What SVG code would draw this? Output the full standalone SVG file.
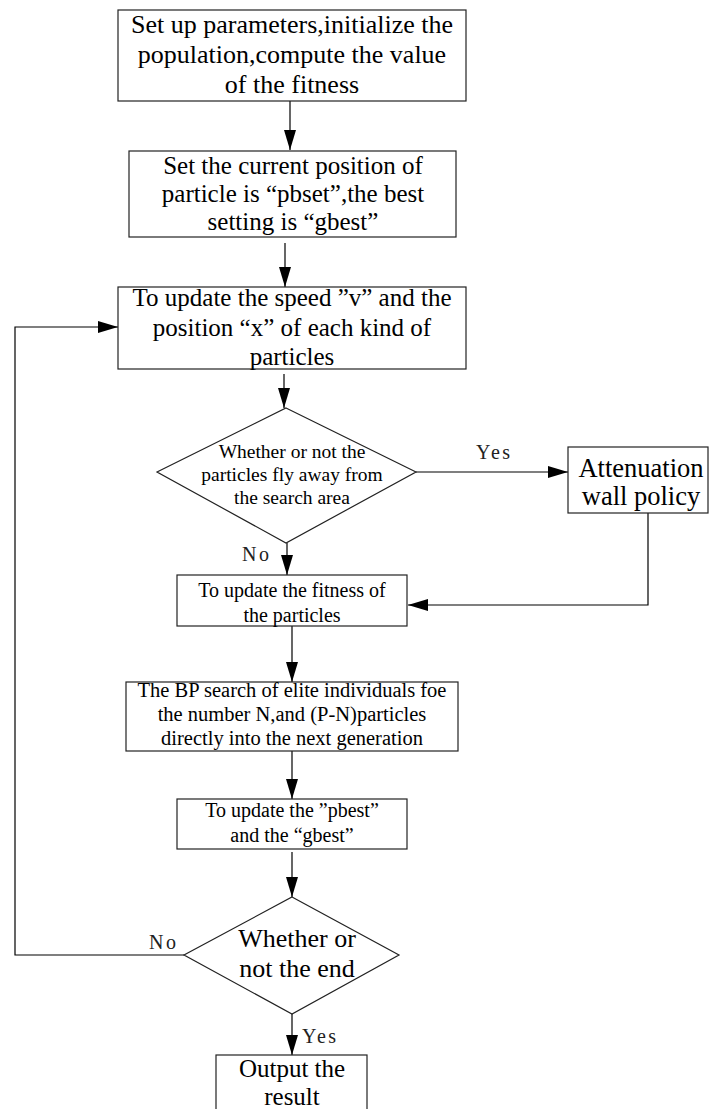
<svg xmlns="http://www.w3.org/2000/svg" width="710" height="1109" viewBox="0 0 710 1109">
<style>
.box{fill:#fff;stroke:#222;stroke-width:1.2}
.t{font-family:"Liberation Serif","Times New Roman",serif;fill:#000;text-anchor:middle}
.lbl{font-family:"Liberation Serif","Times New Roman",serif;fill:#222;font-size:20px;letter-spacing:2.5px}
.c{fill:none;stroke:#000;stroke-width:1.2}
</style>
<defs>
<marker id="ah" markerUnits="userSpaceOnUse" markerWidth="20" markerHeight="12" viewBox="0 0 20 12" refX="20" refY="6" orient="auto">
<path d="M0,0 L20,6 L0,12 Z" fill="#000"/>
</marker>
</defs>
<rect width="710" height="1109" fill="#fff"/>
<g id="connectors">
<line class="c" x1="290" y1="101" x2="290" y2="150" marker-end="url(#ah)"/>
<line class="c" x1="285" y1="243" x2="285" y2="287" marker-end="url(#ah)"/>
<line class="c" x1="284" y1="374" x2="284" y2="408" marker-end="url(#ah)"/>
<line class="c" x1="416" y1="472" x2="568" y2="472" marker-end="url(#ah)"/>
<line class="c" x1="287" y1="543" x2="287" y2="575" marker-end="url(#ah)"/>
<polyline class="c" points="648,513 648,605 408,605" marker-end="url(#ah)"/>
<line class="c" x1="292" y1="626" x2="292" y2="682" marker-end="url(#ah)"/>
<line class="c" x1="292" y1="751" x2="292" y2="799" marker-end="url(#ah)"/>
<line class="c" x1="292" y1="852" x2="292" y2="897" marker-end="url(#ah)"/>
<line class="c" x1="292" y1="1014" x2="292" y2="1055" marker-end="url(#ah)"/>
<polyline class="c" points="184,955 15,955 15,327 118,327" marker-end="url(#ah)"/>
<text class="lbl" x="476" y="459">Yes</text>
<text class="lbl" x="242" y="561">No</text>
<text class="lbl" x="149" y="949">No</text>
<text class="lbl" x="302" y="1043">Yes</text>
</g>
<g id="n1">
<rect class="box" x="118" y="10" width="348" height="91"/>
<text class="t" font-size="26"><tspan x="292" y="33">Set up parameters,initialize the</tspan><tspan x="292" y="63">population,compute the value</tspan><tspan x="292" y="93">of the fitness</tspan></text>
</g>
<g id="n2">
<rect class="box" x="129" y="151" width="327" height="86"/>
<text class="t" font-size="25"><tspan x="293" y="174">Set the current position of</tspan><tspan x="293" y="202">particle is “pbset”,the best</tspan><tspan x="293" y="230">setting is “gbest”</tspan></text>
</g>
<g id="n3">
<rect class="box" x="118" y="287" width="348" height="82"/>
<text class="t" font-size="25"><tspan x="292" y="306">To update the speed ”v” and the</tspan><tspan x="292" y="336">position “x” of each kind of</tspan><tspan x="292" y="365">particles</tspan></text>
</g>
<g id="n4">
<polygon class="box" points="286,408 416,472 286,543 157,472"/>
<text class="t" font-size="19.5"><tspan x="292" y="458">Whether or not the</tspan><tspan x="292" y="481">particles fly away from</tspan><tspan x="292" y="504">the search area</tspan></text>
</g>
<g id="n5">
<rect class="box" x="568" y="447" width="140" height="66"/>
<text class="t" font-size="26.5"><tspan x="641" y="477">Attenuation</tspan><tspan x="641" y="505">wall policy</tspan></text>
</g>
<g id="n6">
<rect class="box" x="177" y="575" width="230" height="51"/>
<text class="t" font-size="20"><tspan x="292" y="597">To update the fitness of</tspan><tspan x="292" y="622">the particles</tspan></text>
</g>
<g id="n7">
<rect class="box" x="126" y="682" width="332" height="69"/>
<text class="t" font-size="20.5"><tspan x="292" y="697">The BP search of elite individuals foe</tspan><tspan x="292" y="721">the number N,and (P-N)particles</tspan><tspan x="292" y="745">directly into the next generation</tspan></text>
</g>
<g id="n8">
<rect class="box" x="177" y="799" width="230" height="50"/>
<text class="t" font-size="20"><tspan x="292" y="817">To update the ”pbest”</tspan><tspan x="292" y="842">and the “gbest”</tspan></text>
</g>
<g id="n9">
<polygon class="box" points="292,897 399,955 292,1014 184,955"/>
<text class="t" font-size="26"><tspan x="297" y="947">Whether or</tspan><tspan x="297" y="977">not the end</tspan></text>
</g>
<g id="n10">
<rect class="box" x="216" y="1055" width="151" height="70"/>
<text class="t" font-size="25"><tspan x="292" y="1077">Output the</tspan><tspan x="292" y="1105">result</tspan></text>
</g>
</svg>
